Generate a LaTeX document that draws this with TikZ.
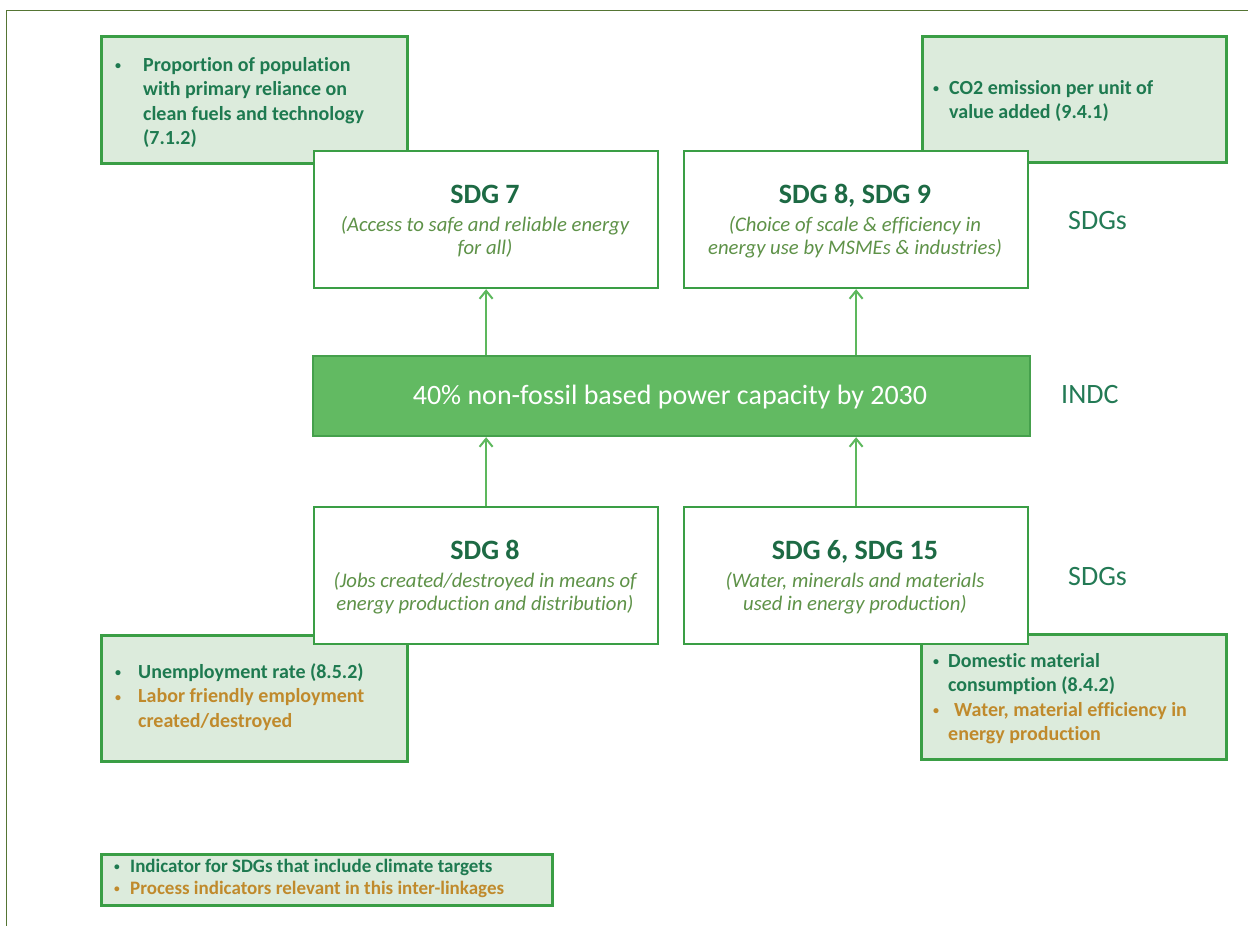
\documentclass[tikz,border=0pt]{standalone}
\usepackage{fontspec}
\setmainfont{Carlito}[RawFeature={-liga;-clig;-dlig;-calt}]
\usetikzlibrary{arrows.meta}
\definecolor{boxgreen}{HTML}{3A9E45}
\definecolor{indfill}{HTML}{DCEBDC}
\definecolor{indcfill}{HTML}{62BA62}
\definecolor{indcline}{HTML}{45A04C}
\definecolor{txtgreen}{HTML}{1E7A50}
\definecolor{txtbrown}{HTML}{C08A2C}
\definecolor{titlegreen}{HTML}{1D6A44}
\definecolor{subgreen}{HTML}{5E9248}
\definecolor{labelgreen}{HTML}{237A55}
\definecolor{framecol}{HTML}{557534}
\definecolor{arrowgreen}{HTML}{5DB85D}
\newcommand\toprule[1]{\rule{0pt}{#1}}
\newcommand\bul[1]{\makebox[#1][l]{\hspace*{2pt}\raisebox{1.5pt}{\scalebox{0.6}{\textbullet}}}}
\begin{document}
\begin{tikzpicture}[x=1pt,y=-1pt,
  indbox/.style={draw=boxgreen, line width=3.2pt, fill=indfill, inner sep=0pt, anchor=north west},
  sdgbox/.style={draw=boxgreen, line width=2.2pt, fill=white, inner sep=0pt, anchor=north west, minimum width=344pt, minimum height=137pt},
  indcbox/.style={draw=indcline, line width=2.2pt, fill=indcfill, inner sep=0pt, anchor=north west},
  itext/.style={inner sep=0pt, anchor=north west, align=left, text=txtgreen, font=\fontsize{20}{24.5}\selectfont\bfseries},
  ltext/.style={inner sep=0pt, anchor=north west, align=left, text=txtgreen, font=\fontsize{19}{22}\selectfont\bfseries},
  ttext/.style={inner sep=0pt, anchor=base, text=titlegreen, font=\fontsize{28}{32}\selectfont\bfseries},
  stext/.style={inner sep=0pt, anchor=north, align=center, text=subgreen, font=\fontsize{20.7}{23}\selectfont\itshape},
  lab/.style={inner sep=0pt, anchor=base west, text=labelgreen, font=\fontsize{28}{32}\selectfont},
  arr/.style={draw=arrowgreen, line width=2pt, -{Straight Barb[length=8pt,width=13pt]}}
]
\useasboundingbox (0,0) rectangle (1248,926);
\fill[white] (0,0) rectangle (1248,926);
\draw[framecol, line width=1.8pt] (1248,10.5) -- (6.5,10.5) -- (6.5,926);

% indicator boxes
\node[indbox, minimum width=306pt, minimum height=127pt] (itl) at (100,35) {};
\node[indbox, minimum width=304pt, minimum height=126pt] (itr) at (921,35) {};
\node[indbox, minimum width=306pt, minimum height=126pt] (ibl) at (100,634) {};
\node[indbox, minimum width=305pt, minimum height=125pt] (ibr) at (920,633) {};
\node[indbox, minimum width=451pt, minimum height=51pt] (leg) at (100,853) {};

\node[itext] (itlt) at (113,55) {\toprule{16pt}\bul{30pt}Proportion of population\\
  \hspace*{30pt}with primary reliance on\\
  \hspace*{30pt}clean fuels and technology\\
  \hspace*{30pt}(7.1.2)};
\node[itext] (itrt) at (931,78) {\toprule{16pt}\bul{18pt}CO2 emission per unit of\\
  \hspace*{18pt}value added (9.4.1)};
\node[itext] (iblt) at (113,662) {\toprule{16pt}\bul{25pt}Unemployment rate (8.5.2)\\
  \textcolor{txtbrown}{\bul{25pt}Labor friendly employment}\\
  \textcolor{txtbrown}{\hspace*{25pt}created/destroyed}};
\node[itext] (ibrt) at (931,651) {\toprule{16pt}\bul{17pt}Domestic material\\
  \hspace*{17pt}consumption (8.4.2)\\
  \textcolor{txtbrown}{\bul{17pt}\hspace*{6pt}Water, material efficiency in}\\
  \textcolor{txtbrown}{\hspace*{17pt}energy production}};
\node[ltext] (legt) at (112,857) {\toprule{15pt}\bul{18pt}Indicator for SDGs that include climate targets\\
  \textcolor{txtbrown}{\bul{18pt}Process indicators relevant in this inter-linkages}};

% SDG boxes
\node[sdgbox] (sdg7) at (313,150) {};
\node[sdgbox] (sdg89) at (683,150) {};
\node[sdgbox] (sdg8) at (313,506) {};
\node[sdgbox] (sdg615) at (683,506) {};

\node[ttext] (sdg7t) at (485,203) {SDG 7};
\node[stext] (sdg7s) at (485,214) {\toprule{17pt}(Access to safe and reliable energy\\for all)};
\node[ttext] (sdg89t) at (855,203) {SDG 8, SDG 9};
\node[stext] (sdg89s) at (855,214) {\toprule{17pt}(Choice of scale \& efficiency in\\energy use by MSMEs \& industries)};
\node[ttext] (sdg8t) at (485,559) {SDG 8};
\node[stext] (sdg8s) at (485,570) {\toprule{17pt}(Jobs created/destroyed in means of\\energy production and distribution)};
\node[ttext] (sdg615t) at (855,559) {SDG 6, SDG 15};
\node[stext] (sdg615s) at (855,570) {\toprule{17pt}(Water, minerals and materials\\used in energy production)};

% INDC bar
\node[indcbox, minimum width=717pt, minimum height=80pt] (indc) at (312,355) {};
\node[inner sep=0pt, anchor=base, text=white, font=\fontsize{28}{32}\selectfont] (indct) at (670,404) {40\% non-fossil based power capacity by 2030};

% side labels
\node[lab] (lsdg1) at (1068,229) {SDGs};
\node[lab] (lindc) at (1061,403) {INDC};
\node[lab] (lsdg2) at (1068,585) {SDGs};

% arrows
\draw[arr] (sdg7.south |- indc.north) -- (sdg7.south);
\draw[arr] (sdg89.south |- indc.north) -- (sdg89.south);
\draw[arr] (sdg8.north) -- (sdg8.north |- indc.south);
\draw[arr] (sdg615.north) -- (sdg615.north |- indc.south);
\end{tikzpicture}
\end{document}
